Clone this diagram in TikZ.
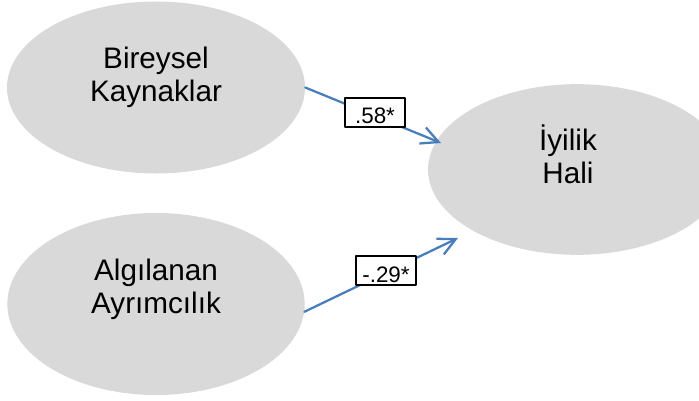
\documentclass[tikz,border=0pt]{standalone}
\usepackage{fontspec}
\setmainfont{Liberation Sans}
\usetikzlibrary{arrows.meta,shapes.geometric}
\definecolor{blobgray}{HTML}{D9D9D9}
\definecolor{pathblue}{HTML}{4A7EBB}
\tikzset{
    blob/.style={
        ellipse, fill=blobgray, inner sep=0pt,
        minimum width=223.5pt, minimum height=129pt
    },
    blobtext/.style={
        align=center, inner sep=0pt,
        font=\fontsize{22.25}{25}\selectfont
    },
    effect/.style={
        draw=pathblue, line width=1.7pt,
        -{Straight Barb[length=13pt,width=13pt]}
    },
    coef/.style={
        draw=black, fill=white, line width=1.4pt, inner sep=0pt,
        minimum width=44.75pt, minimum height=21.75pt,
        text height=17pt, text depth=0pt,
        font=\fontsize{16.8}{19}\selectfont
    }
}

\begin{document}
\begin{tikzpicture}[x=0.75pt,y=-0.75pt, line cap=round, line join=round]

\useasboundingbox (0,0) rectangle (699,400);

% latent variables
\node[blob] (bir) at (156,87.5) {};
\node[blob, minimum width=223pt, minimum height=136.5pt] (alg) at (156,304) {};
\node[blob, minimum height=128pt] (hali) at (577,169.5) {};

\node[blobtext] (birtxt) at (156,77.5) {Bireysel\\Kaynaklar};
\node[blobtext] (algtxt) at (156,289) {Algılanan\\Ayrımcılık};
\node[blobtext] (halitxt) at (568,154) {İyilik\\Hali};

% paths and coefficients
\coordinate (tip1) at (441,143);
\coordinate (tip2) at (458,238);
\draw[effect] (bir.east) -- (tip1);
\draw[effect] (alg.-3) -- (tip2);

\node[coef] (c1) at (375,112.5) {.58*\hspace{2pt}};
\node[coef] (c2) at (386,270.7) {-.29*};

\end{tikzpicture}
\end{document}
